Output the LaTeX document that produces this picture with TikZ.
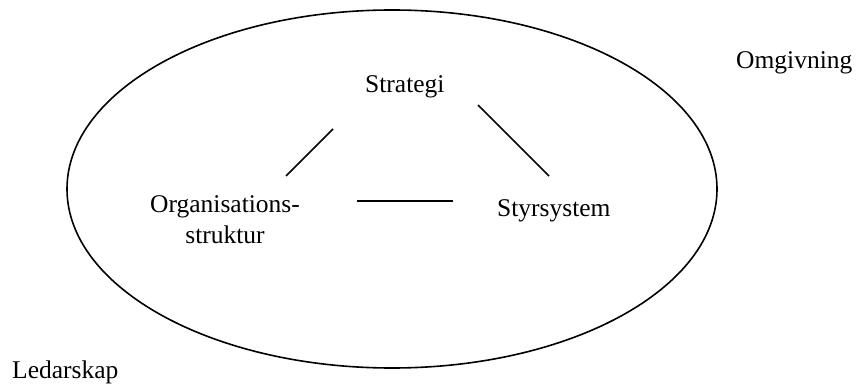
\documentclass[tikz,border=0pt]{standalone}
\usepackage{fontspec}
\setmainfont{Liberation Serif}
\begin{document}
\begin{tikzpicture}[x=1pt,y=-1pt,
  lbl/.style={font=\fontsize{25.5}{31}\selectfont, inner sep=0pt, anchor=base west},
  link/.style={line width=1.6pt}]
\useasboundingbox (0,0) rectangle (858,387);
% environment boundary
\draw[line width=1.6pt] (392,189) ellipse [x radius=325, y radius=179];
% labels
\node[lbl] (omg) at (736,69) {Omgivning};
\node[lbl] (led) at (12,378) {Ledarskap};
\node[lbl] (str) at (365,93) {Strategi};
\node[lbl, align=center, anchor=base] (org) at (225,243) {Organisations-\\struktur};
\node[lbl] (sty) at (497,217) {Styrsystem};
% links between the three parts
\coordinate (a1) at (286,176); \coordinate (a2) at (333,129);
\coordinate (b1) at (478,105); \coordinate (b2) at (549,176);
\coordinate (c1) at (357,201); \coordinate (c2) at (453,201);
\draw[link] (a1) -- (a2);
\draw[link] (b1) -- (b2);
\draw[link] (c1) -- (c2);
\end{tikzpicture}
\end{document}
